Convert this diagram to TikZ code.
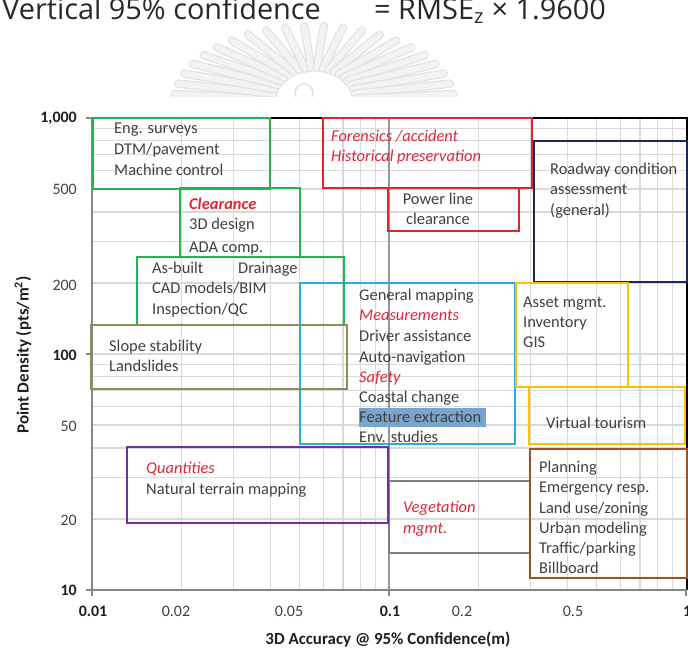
\documentclass[tikz,border=0pt]{standalone}
\usepackage{fontspec}
\setmainfont{Carlito}
\newfontfamily\hdrfont{Open Sans}
\usetikzlibrary{calc}

\definecolor{gridgray}{RGB}{217,217,217}
\definecolor{majgray}{RGB}{150,150,150}
\definecolor{axgray}{RGB}{134,134,134}
\definecolor{txtgray}{RGB}{64,64,64}
\definecolor{tickblk}{RGB}{30,30,30}
\definecolor{hdrgray}{RGB}{40,40,40}
\definecolor{redtxt}{RGB}{226,36,58}
\definecolor{cgreen}{RGB}{40,178,75}
\definecolor{cred}{RGB}{228,35,42}
\definecolor{cnavy}{RGB}{31,40,92}
\definecolor{csky}{RGB}{41,171,226}
\definecolor{cyellow}{RGB}{255,192,0}
\definecolor{colive}{RGB}{148,138,84}
\definecolor{cpurple}{RGB}{112,48,160}
\definecolor{cgray}{RGB}{128,128,128}
\definecolor{cbrown}{RGB}{160,80,40}
\definecolor{hilite}{RGB}{122,164,204}
\definecolor{wmfill}{RGB}{243,243,243}
\definecolor{wmline}{RGB}{226,226,226}

\newcommand\bxfont{\fontsize{16.5}{20}\selectfont}
\newcommand\tkfont{\fontsize{16}{19}\selectfont}

\tikzset{
  gridln/.style={draw=gridgray, line width=1.2bp},
  frame/.style={line width=2.5bp},
  lbl/.style={anchor=base west, inner sep=0pt, font=\bxfont, text=txtgray},
  clbl/.style={anchor=base, inner sep=0pt, font=\bxfont, text=txtgray},
  rlbl/.style={lbl, text=redtxt, font=\bxfont\itshape},
  ytick/.style={anchor=east, inner sep=0pt, font=\tkfont, text=txtgray},
  xtick/.style={anchor=center, inner sep=0pt, font=\tkfont, text=txtgray},
  bold/.style={font=\tkfont\bfseries, text=tickblk},
  wmray/.style={line cap=round},
  hdr/.style={anchor=base west, inner sep=0pt, font=\hdrfont\fontsize{29}{34}\selectfont, text=hdrgray},
}

\begin{document}
\begin{tikzpicture}[x=1bp,y=-1bp]
\useasboundingbox (0,0) rectangle (688,649);
\clip (0,0) rectangle (688,649);

% faint emblem behind the heading
\begin{scope}
  \clip (140,0) rectangle (480,97);
  \foreach \a in {-174,-166,...,-6} {
    \draw[wmray, draw=wmline, line width=8.5bp]
      ($(314,102)+(\a:42 and 34)$) -- ($(314,102)+(\a:140 and 76)$);
    \draw[wmray, draw=wmfill, line width=6bp]
      ($(314,102)+(\a:42 and 34)$) -- ($(314,102)+(\a:140 and 76)$);
  }
  \draw[draw=wmline, line width=1.5bp, fill=white] (304,93) circle (9);
\end{scope}

% heading
\node[hdr] (hdrleft) at (2,20) {Vertical 95\% confidence};
\node[hdr] (hdrright) at (374,20) {= RMSE\textsubscript{z} × 1.9600};

% log grid
\foreach \k in {2,...,9} {
  \pgfmathsetmacro\gxa{92+297*log10(\k)}
  \pgfmathsetmacro\gxb{389+297*log10(\k)}
  \pgfmathsetmacro\gya{590-236*log10(\k)}
  \pgfmathsetmacro\gyb{354-236*log10(\k)}
  \draw[gridln] (\gxa,118) -- (\gxa,590);
  \draw[gridln] (\gxb,118) -- (\gxb,590);
  \draw[gridln] (92,\gya) -- (687,\gya);
  \draw[gridln] (92,\gyb) -- (687,\gyb);
}
\draw[gridln] (92,354) -- (687,354);
\draw[draw=majgray, line width=1.3bp] (389,118) -- (389,590);

% plot frame and axes
\draw[black, line width=1.5bp] (92,118) -- (687,118) -- (687,590);
\draw[axgray, line width=1.8bp] (92,118) -- (92,590) -- (687,590);
\foreach \yy in {118,354,590} \draw[axgray, line width=1.3bp] (86,\yy) -- (92,\yy);
\foreach \xx in {92,389,686} \draw[axgray, line width=1.3bp] (\xx,590) -- (\xx,596);

% application regions
\draw[frame, csky]    (300,283) rectangle (515,444);
\draw[frame, cgreen]  (93,118)  rectangle (270,189);
\draw[frame, cgreen]  (180,188) rectangle (300,257);
\draw[frame, cgreen]  (137,257) rectangle (344,325);
\draw[frame, colive]  (91,325)  rectangle (347,389);
\draw[frame, cgray]   (389,481) rectangle (530,553);
\draw[frame, cpurple] (127,447) rectangle (388,523);
\draw[frame, cbrown]  (530,449) rectangle (687,578);
\draw[frame, cred]    (323,118) rectangle (532,188);
\draw[frame, cred]    (388,188) rectangle (519,231);
\draw[frame, cnavy]   (534,141) rectangle (687,282);
\draw[frame, cyellow] (516,283) rectangle (628,387);
\draw[frame, cyellow] (529,387) rectangle (685,444);

% region labels
\node[lbl] (engsurv) at (114,134) {Eng. surveys};
\node[lbl] (dtm)     at (114,154) {DTM/pavement};
\node[lbl] (machine) at (114,175) {Machine control};

\node[rlbl, font=\bxfont\bfseries\itshape] (clear) at (189,209) {Clearance};
\node[lbl] (design3d) at (189,229) {3D design};
\node[lbl] (adacomp)  at (189,252) {ADA comp.};

\node[lbl] (asbuilt)  at (152,273) {As-built};
\node[lbl] (drainage) at (238,273) {Drainage};
\node[lbl] (cadbim)   at (152,293) {CAD models/BIM};
\node[lbl] (inspqc)   at (152,314) {Inspection/QC};

\node[lbl] (slope)     at (109,351) {Slope stability};
\node[lbl] (landslide) at (109,371) {Landslides};

\fill[hilite] (359,408) rectangle (486,427);
\node[lbl]  (genmap)  at (359,300) {General mapping};
\node[rlbl] (measure) at (359,320) {Measurements};
\node[lbl]  (driver)  at (359,341) {Driver assistance};
\node[lbl]  (autonav) at (359,362) {Auto-navigation};
\node[rlbl] (safety)  at (359,382) {Safety};
\node[lbl]  (coastal) at (359,402) {Coastal change};
\node[lbl]  (feature) at (359,422) {Feature extraction};
\node[lbl]  (env)     at (359,442) {Env. studies};

\node[lbl] (asset) at (523,307) {Asset mgmt.};
\node[lbl] (invent) at (523,327) {Inventory};
\node[lbl] (gis)   at (523,347) {GIS};
\node[lbl] (virtual) at (546,428) {Virtual tourism};

\node[rlbl] (quant)   at (146,473) {Quantities};
\node[lbl]  (natural) at (146,494) {Natural terrain mapping};

\node[rlbl] (veg)  at (403,512) {Vegetation};
\node[rlbl] (mgmt) at (403,533) {mgmt.};

\node[lbl] (plan)    at (539,472) {Planning};
\node[lbl] (emerg)   at (539,492) {Emergency resp.};
\node[lbl] (landuse) at (539,513) {Land use/zoning};
\node[lbl] (urban)   at (539,533) {Urban modeling};
\node[lbl] (traffic) at (539,553) {Traffic/parking};
\node[lbl] (bill)    at (539,573) {Billboard};

\node[rlbl] (forens) at (331,141) {Forensics /accident};
\node[rlbl] (hist)   at (331,161) {Historical preservation};

\node[clbl] (power)  at (438,204) {Power line};
\node[clbl] (pclear) at (438,224) {clearance};

\node[lbl] (roadway) at (550,174) {Roadway condition};
\node[lbl] (assess)  at (550,194) {assessment};
\node[lbl] (general) at (550,215) {(general)};

% tick labels
\node[ytick, bold] (y1000) at (77,118) {1,000};
\node[ytick] (y500) at (77,189) {500};
\node[ytick] (y200) at (77,285) {200};
\node[ytick, bold] (y100) at (77,355) {100};
\node[ytick] (y50) at (77,426) {50};
\node[ytick] (y20) at (77,520) {20};
\node[ytick, bold] (y10) at (77,590) {10};

\node[xtick, bold] (x001) at (93,611) {0.01};
\node[xtick] (x002) at (176,611) {0.02};
\node[xtick] (x005) at (289,611) {0.05};
\node[xtick, bold] (x01) at (390,611) {0.1};
\node[xtick] (x02) at (462,611) {0.2};
\node[xtick] (x05) at (573,611) {0.5};
\node[xtick, bold, anchor=west] (x1) at (683,611) {1};

% axis titles
\node[inner sep=0pt, font=\fontsize{17}{20}\selectfont\bfseries, text=tickblk]
  (xtitle) at (388,640) {3D Accuracy @ 95\% Confidence(m)};
\node[inner sep=0pt, rotate=90, font=\fontsize{17}{20}\selectfont\bfseries, text=tickblk]
  (ytitle) at (23,355) {Point Density (pts/m\textsuperscript{2})};
\end{tikzpicture}
\end{document}
